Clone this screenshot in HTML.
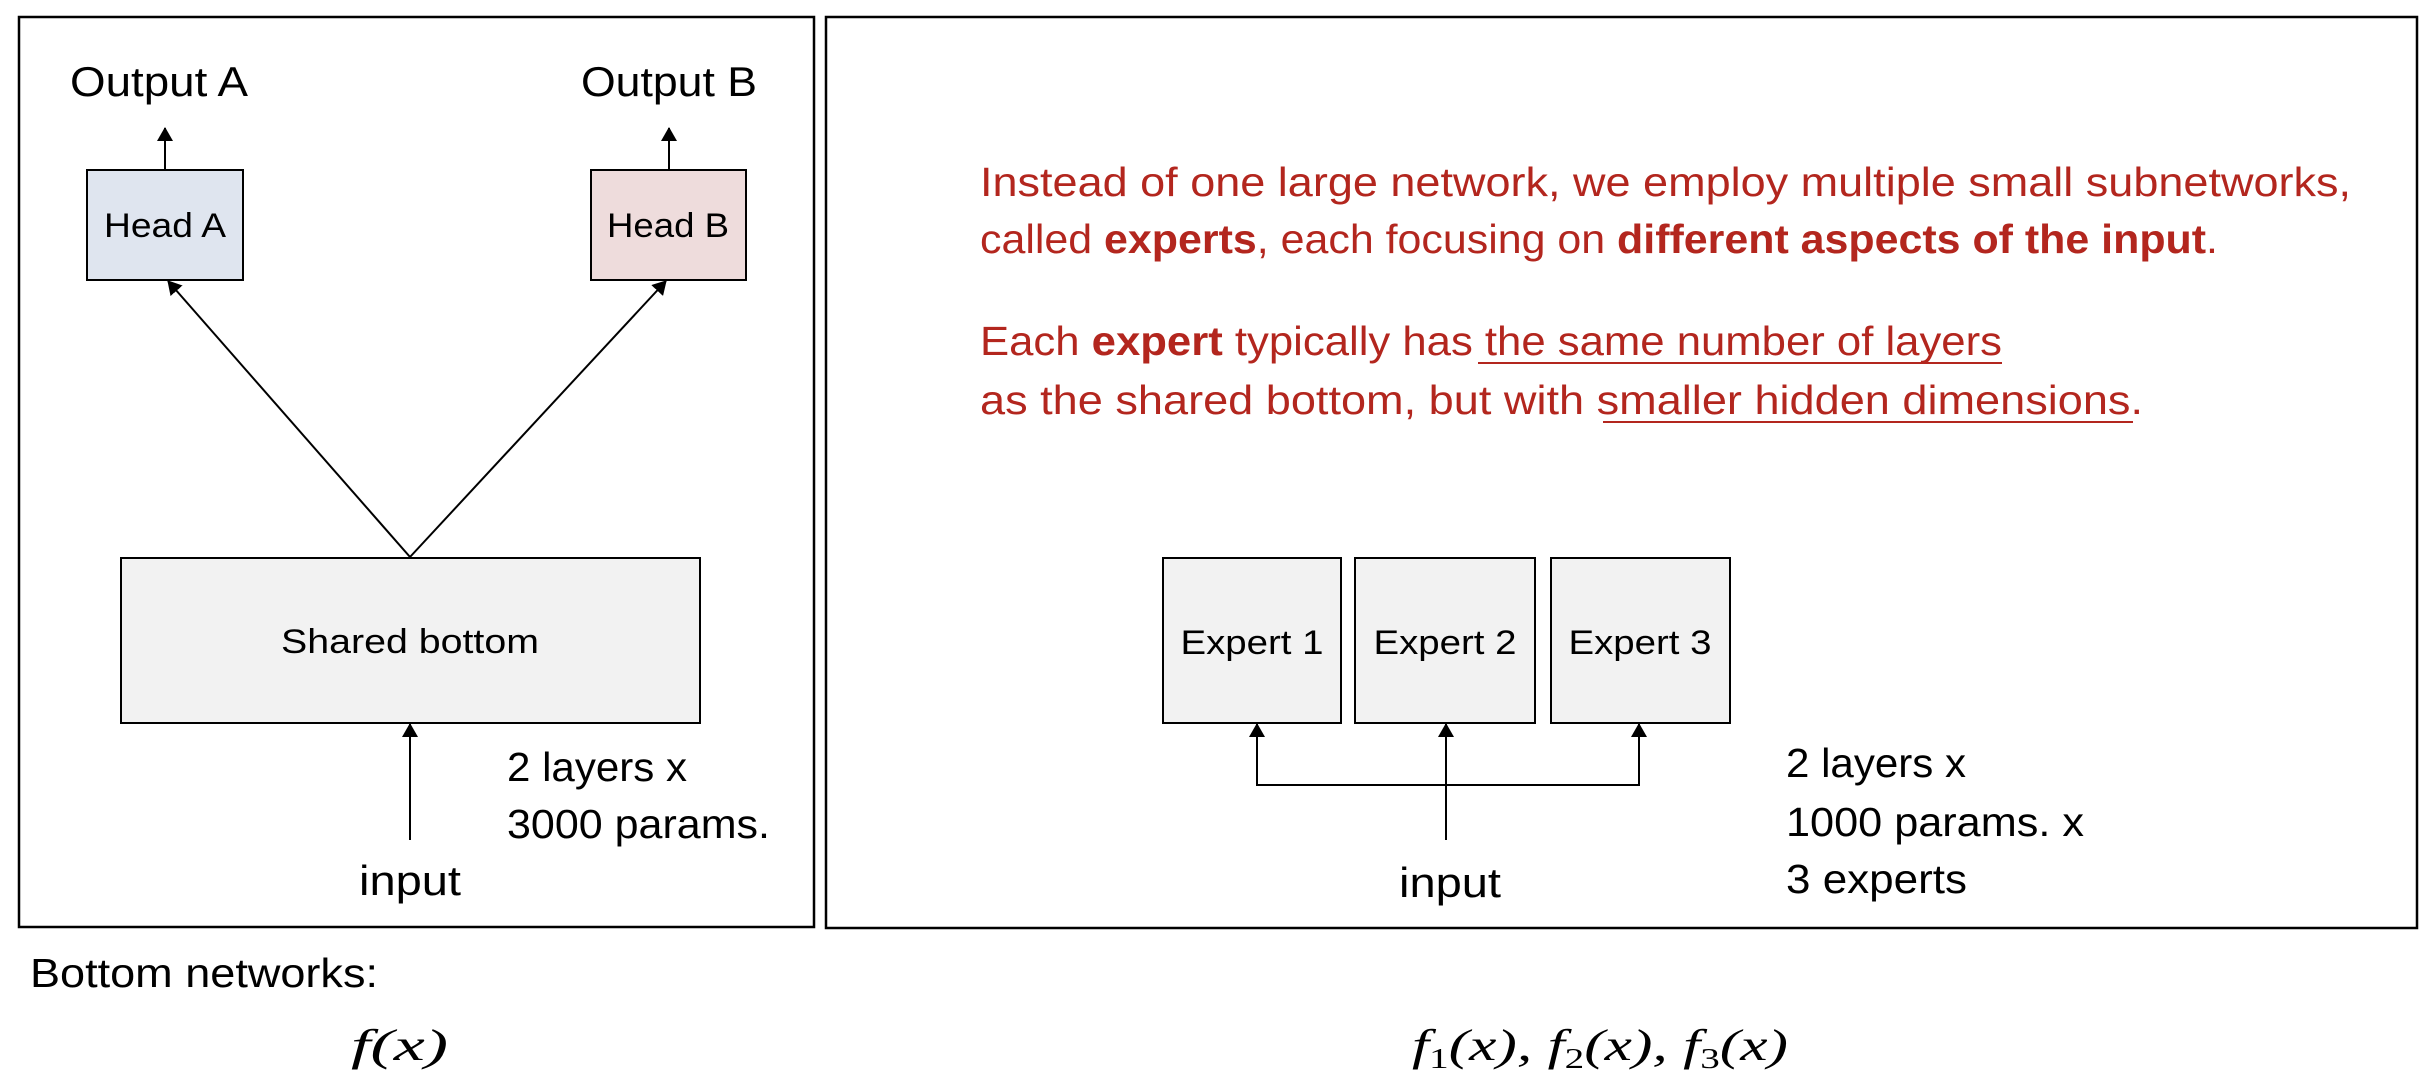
<!DOCTYPE html>
<html><head><meta charset="utf-8"><style>html,body{margin:0;padding:0;background:#fff}svg{display:block}</style></head>
<body>
<svg width="2426" height="1092" viewBox="0 0 2426 1092" xmlns="http://www.w3.org/2000/svg" font-family="Liberation Sans, sans-serif">
<defs>
<marker id="ah" markerWidth="14" markerHeight="16" refX="13" refY="8" orient="auto" markerUnits="userSpaceOnUse" viewBox="0 0 14 16">
<path d="M0,0 L14,8 L0,16 z" fill="#000"/>
</marker>
</defs>
<rect x="19" y="17" width="795" height="910" fill="none" stroke="#000" stroke-width="2.5"/>
<rect x="826" y="17" width="1591" height="911" fill="none" stroke="#000" stroke-width="2.5"/>

<text x="159" y="96" font-size="42" text-anchor="middle" textLength="178" lengthAdjust="spacingAndGlyphs">Output A</text>
<text x="669" y="96" font-size="42" text-anchor="middle" textLength="176" lengthAdjust="spacingAndGlyphs">Output B</text>
<rect x="87" y="170" width="156" height="110" fill="#dfe5ef" stroke="#000" stroke-width="2"/>
<rect x="591" y="170" width="155" height="110" fill="#eedcdc" stroke="#000" stroke-width="2"/>
<text x="165" y="237" font-size="34" text-anchor="middle" textLength="122" lengthAdjust="spacingAndGlyphs">Head A</text>
<text x="668" y="237" font-size="34" text-anchor="middle" textLength="122" lengthAdjust="spacingAndGlyphs">Head B</text>
<line x1="165" y1="170" x2="165" y2="128" stroke="#000" stroke-width="2" marker-end="url(#ah)"/>
<line x1="669" y1="170" x2="669" y2="128" stroke="#000" stroke-width="2" marker-end="url(#ah)"/>
<rect x="121" y="558" width="579" height="165" fill="#f2f2f2" stroke="#000" stroke-width="2"/>
<text x="410" y="653" font-size="34" text-anchor="middle" textLength="258" lengthAdjust="spacingAndGlyphs">Shared bottom</text>
<line x1="410" y1="557" x2="168" y2="281" stroke="#000" stroke-width="2" marker-end="url(#ah)"/>
<line x1="410" y1="557" x2="666" y2="281" stroke="#000" stroke-width="2" marker-end="url(#ah)"/>
<line x1="410" y1="840" x2="410" y2="724" stroke="#000" stroke-width="2" marker-end="url(#ah)"/>
<text x="410" y="895" font-size="42" text-anchor="middle" textLength="102" lengthAdjust="spacingAndGlyphs">input</text>
<text x="507" y="781" font-size="41" textLength="180" lengthAdjust="spacingAndGlyphs">2 layers x</text>
<text x="507" y="838" font-size="41" textLength="263" lengthAdjust="spacingAndGlyphs">3000 params.</text>

<g fill="#b3261e" font-size="41">
<text x="980" y="196" textLength="1371" lengthAdjust="spacingAndGlyphs">Instead of one large network, we employ multiple small subnetworks,</text>
<text x="980" y="253" textLength="1238" lengthAdjust="spacingAndGlyphs">called <tspan font-weight="bold">experts</tspan>, each focusing on <tspan font-weight="bold">different aspects of the input</tspan>.</text>
<text x="980" y="355" textLength="1022" lengthAdjust="spacingAndGlyphs">Each <tspan font-weight="bold">expert</tspan> typically has the same number of layers</text>
<text x="980" y="414" textLength="1163" lengthAdjust="spacingAndGlyphs">as the shared bottom, but with smaller hidden dimensions.</text>
</g>
<line x1="1478" y1="363" x2="2002" y2="363" stroke="#b3261e" stroke-width="2"/>
<line x1="1603" y1="422" x2="2133" y2="422" stroke="#b3261e" stroke-width="2"/>

<rect x="1163" y="558" width="178" height="165" fill="#f2f2f2" stroke="#000" stroke-width="2"/>
<rect x="1355" y="558" width="180" height="165" fill="#f2f2f2" stroke="#000" stroke-width="2"/>
<rect x="1551" y="558" width="179" height="165" fill="#f2f2f2" stroke="#000" stroke-width="2"/>
<text x="1252" y="654" font-size="34" text-anchor="middle" textLength="143" lengthAdjust="spacingAndGlyphs">Expert 1</text>
<text x="1445" y="654" font-size="34" text-anchor="middle" textLength="143" lengthAdjust="spacingAndGlyphs">Expert 2</text>
<text x="1640" y="654" font-size="34" text-anchor="middle" textLength="143" lengthAdjust="spacingAndGlyphs">Expert 3</text>
<polyline points="1257,724 1257,785 1639,785 1639,724" fill="none" stroke="#000" stroke-width="2"/>
<line x1="1257" y1="785" x2="1257" y2="724" stroke="#000" stroke-width="2" marker-end="url(#ah)"/>
<line x1="1639" y1="785" x2="1639" y2="724" stroke="#000" stroke-width="2" marker-end="url(#ah)"/>
<line x1="1446" y1="840" x2="1446" y2="724" stroke="#000" stroke-width="2" marker-end="url(#ah)"/>
<text x="1450" y="897" font-size="42" text-anchor="middle" textLength="102" lengthAdjust="spacingAndGlyphs">input</text>
<text x="1786" y="777" font-size="41" textLength="180" lengthAdjust="spacingAndGlyphs">2 layers x</text>
<text x="1786" y="836" font-size="41" textLength="298" lengthAdjust="spacingAndGlyphs">1000 params. x</text>
<text x="1786" y="893" font-size="41" textLength="181" lengthAdjust="spacingAndGlyphs">3 experts</text>

<text x="30" y="987" font-size="41" textLength="348" lengthAdjust="spacingAndGlyphs">Bottom networks:</text>
<text x="351" y="1060" font-size="44" font-family="Liberation Serif, serif" font-style="italic" textLength="97" lengthAdjust="spacingAndGlyphs">f(x)</text>
<text x="1412" y="1060" font-size="44" font-family="Liberation Serif, serif" font-style="italic" textLength="376" lengthAdjust="spacingAndGlyphs">f<tspan font-size="28" dy="8" font-style="normal">1</tspan><tspan dy="-8">(x), f</tspan><tspan font-size="28" dy="8" font-style="normal">2</tspan><tspan dy="-8">(x), f</tspan><tspan font-size="28" dy="8" font-style="normal">3</tspan><tspan dy="-8">(x)</tspan></text>
</svg>
</body></html>
